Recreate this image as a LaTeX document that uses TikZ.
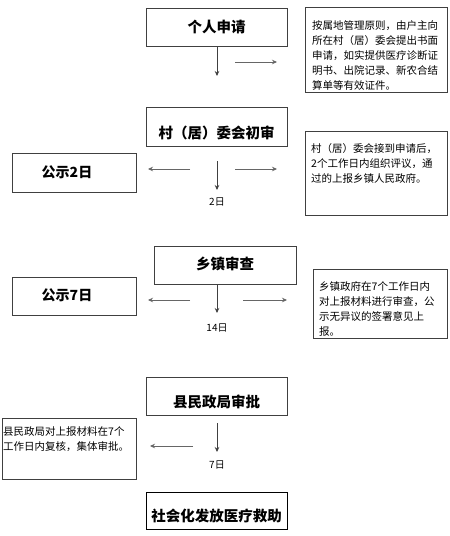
\documentclass[tikz,border=0pt]{standalone}
\usepackage{fontspec}
\setmainfont{Noto Sans CJK SC}
\usetikzlibrary{arrows.meta}
\tikzset{
  boxframe/.style={draw=black!75, line width=0.8pt, inner sep=0pt, anchor=north west},
  titletext/.style={font=\fontsize{14.5}{16}\selectfont\bfseries, inner sep=0pt},
  sidetext/.style={font=\fontsize{14}{16}\selectfont\bfseries, inner sep=0pt},
  notetext/.style={font=\fontsize{10.5}{15}\selectfont, inner sep=0pt, anchor=north west, align=left},
  daytext/.style={font=\fontsize{10}{12}\selectfont, inner sep=0pt},
  flow/.style={draw=black!75, line width=0.7pt, -{Stealth[length=5pt,width=4.5pt]}},
  side/.style={draw=black!60, line width=0.7pt, -{Stealth[length=5pt,width=4.5pt]}},
}
\begin{document}
\begin{tikzpicture}[x=1pt,y=-1pt]
\fill[white] (0,0) rectangle (450,536);
\useasboundingbox (0,0) rectangle (450,536);

% final box (drawn first)
\node[boxframe, draw=black, line width=1pt, minimum width=141pt, minimum height=37pt] (b5) at (146,492) {};
\node[titletext] (t5) at (216.5,516) {社会化发放医疗救助};

% main boxes
\node[boxframe, minimum width=141pt, minimum height=38pt] (b1) at (146,8) {};
\node[titletext] (t1) at (216.5,26.5) {个人申请};
\node[boxframe, minimum width=141pt, minimum height=39pt] (b2) at (146,107) {};
\node[titletext] (t2) at (216.5,133) {村（居）委会初审};
\node[boxframe, minimum width=142pt, minimum height=38pt] (b3) at (154,246) {};
\node[titletext] (t3) at (225,264) {乡镇审查};
\node[boxframe, minimum width=141pt, minimum height=38pt] (b4) at (146,377) {};
\node[titletext] (t4) at (216.5,402) {县民政局审批};

% left boxes
\node[boxframe, minimum width=124pt, minimum height=39pt] (l2) at (12,153) {};
\node[sidetext] (lt2) at (67,172) {公示2日};
\node[boxframe, minimum width=124pt, minimum height=38pt] (l3) at (12,277) {};
\node[sidetext] (lt3) at (67,295) {公示7日};
\node[boxframe, minimum width=134pt, minimum height=61pt] (l4) at (2,418) {};
\node[notetext] (lt4) at (3,426) {县民政局对上报材料在7个\\工作日内复核，集体审批。};

% right note boxes
\node[boxframe, minimum width=142pt, minimum height=85pt] (n1) at (305,7) {};
\node[notetext] (nt1) at (312,20) {按属地管理原则，由户主向\\所在村（居）委会提出书面\\申请，如实提供医疗诊断证\\明书、出院记录、新农合结\\算单等有效证件。};
\node[boxframe, minimum width=142pt, minimum height=84pt] (n2) at (305,131) {};
\node[notetext] (nt2) at (311,143.5) {村（居）委会接到申请后，\\2个工作日内组织评议，通\\过的上报乡镇人民政府。};
\node[boxframe, minimum width=134pt, minimum height=69pt] (n3) at (313,269) {};
\node[notetext] (nt3) at (319,281.5) {乡镇政府在7个工作日内\\对上报材料进行审查，公\\示无异议的签署意见上\\报。};

% day labels
\node[daytext] (d2) at (217,202) {2日};
\node[daytext] (d3) at (217,328) {14日};
\node[daytext] (d4) at (217,465) {7日};

% arrow end points
\coordinate (a1s) at (217,46);   \coordinate (a1e) at (217,76);
\coordinate (r1s) at (235,62);   \coordinate (r1e) at (277,62);
\coordinate (a2s) at (217,161);  \coordinate (a2e) at (217,190);
\coordinate (l2s) at (190,169);  \coordinate (l2e) at (148,169);
\coordinate (r2s) at (235,169);  \coordinate (r2e) at (277,169);
\coordinate (a3s) at (217,284);  \coordinate (a3e) at (217,313);
\coordinate (l3s) at (190,300);  \coordinate (l3e) at (148,300);
\coordinate (r3s) at (243,300);  \coordinate (r3e) at (287,300);
\coordinate (a4s) at (217,423);  \coordinate (a4e) at (217,452);
\coordinate (l4s) at (193,446);  \coordinate (l4e) at (150,446);

\draw[flow] (a1s) -- (a1e);
\draw[side] (r1s) -- (r1e);
\draw[flow] (a2s) -- (a2e);
\draw[side] (l2s) -- (l2e);
\draw[side] (r2s) -- (r2e);
\draw[flow] (a3s) -- (a3e);
\draw[side] (l3s) -- (l3e);
\draw[side] (r3s) -- (r3e);
\draw[flow] (a4s) -- (a4e);
\draw[side] (l4s) -- (l4e);
\end{tikzpicture}
\end{document}
